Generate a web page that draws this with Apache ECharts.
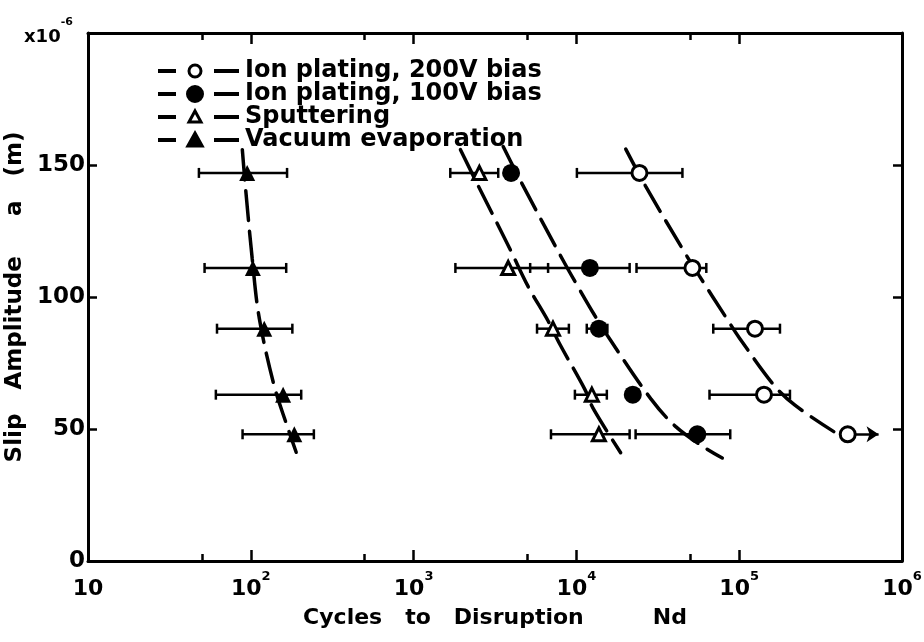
<!DOCTYPE html>
<html>
<head>
<meta charset="utf-8">
<script src="https://cdn.jsdelivr.net/npm/echarts@6/dist/echarts.min.js"></script>
<style>
  html, body { margin: 0; padding: 0; background: #fff; }
  #chart { width: 924px; height: 642px; }
</style>
</head>
<body>
<div id="chart"></div>
<script>
// slip amplitude levels (x10^-6 m), shared by all four coatings
const amplitude = [147, 111, 88, 63, 48];

// cycles to disruption, read at each amplitude level
const ion200N = [24400, 51600, 125000, 142000, 464000];
const ion100N = [3970, 12100, 13740, 22200, 55300];
const sputterN = [2535, 3810, 7180, 12440, 13740];
const vacuumN = [95, 103, 121, 158, 185];

// scatter bands (low / high) per level, null = no bar drawn
const ion200Lo = [10070, 23400, 69300, 65700, null];
const ion200Hi = [44800, 62800, 178000, 205000, null];
const ion100Lo = [null, 5200, 11580, null, 23100];
const ion100Hi = [null, 21230, 15500, null, 88100];
const sputterLo = [1680, 1806, 5730, 9790, 6980];
const sputterHi = [3310, 6700, 8990, 15380, 21230];
const vacuumLo = [48, 52, 62, 61, 89];
const vacuumHi = [167, 165, 180, 204, 244];

// run-out arrow on the last 200V point
const ion200Arrow = [464000, 718000];

// fitted dashed curves [N, amplitude]
const ion200Curve = [[20100, 156], [26600, 142], [46100, 117], [56900, 108], [84500, 91.5], [100000, 84.6], [164000, 66.5], [220000, 59], [381000, 49]];
const ion100Curve = [[3550, 157], [4580, 143.5], [8260, 114], [10200, 104], [12970, 93], [16250, 83.5], [28600, 61.5], [40600, 51], [61100, 43], [78700, 39]];
const sputterCurve = [[1940, 155.8], [2500, 142], [3920, 118], [5050, 104], [6690, 91], [7930, 82], [11270, 65], [12620, 58], [18700, 41]];
const vacuumCurve = [[88.7, 155.8], [92.5, 142.3], [102, 114.6], [112.5, 92.3], [139, 66.5], [167, 51.2], [190, 41.2]];

// axis ticks
const xMajor = [100, 1000, 10000, 100000];
const xMinor = [50, 500, 5000, 50000];
const supDigits = { 2: '2', 3: '3', 4: '4', 5: '5', 6: '6' };

const FONT = 'DejaVu Sans';

function points(xs) {
  return xs.map((x, i) => [x, amplitude[i]]);
}

function bars(lo, hi) {
  const out = [];
  lo.forEach((l, i) => {
    if (l != null && hi[i] != null) out.push([l, hi[i], amplitude[i]]);
  });
  return out;
}

function renderBar(params, api) {
  const y = api.value(2);
  const a = api.coord([api.value(0), y]);
  const b = api.coord([api.value(1), y]);
  const style = { stroke: '#000', lineWidth: 2.5 };
  return {
    type: 'group',
    children: [
      { type: 'line', shape: { x1: a[0], y1: a[1], x2: b[0], y2: b[1] }, style },
      { type: 'line', shape: { x1: a[0], y1: a[1] - 5, x2: a[0], y2: a[1] + 5 }, style },
      { type: 'line', shape: { x1: b[0], y1: b[1] - 5, x2: b[0], y2: b[1] + 5 }, style }
    ]
  };
}

function xLabel(v) {
  const p = Math.round(Math.log10(v));
  if (p === 1) return '{b|10}';
  return '{b|10}{s|' + supDigits[p] + '}';
}

const lineAxis = { show: true, lineStyle: { color: '#000', width: 3 } };
const noAxis = { show: false };

const xBase = { type: 'log', logBase: 10, min: 10, max: 1000000, gridIndex: 0, splitLine: { show: false } };

const curveStyle = { color: '#000', width: 3.5, type: [30, 11], cap: 'round' };

function curve(data) {
  return {
    type: 'line', data, smooth: 0.35, showSymbol: false, silent: true,
    lineStyle: curveStyle, z: 2
  };
}

function barSeries(data) {
  return {
    type: 'custom', renderItem: renderBar, data, encode: { x: [0, 1], y: 2 }, silent: true, z: 3
  };
}

const hollow = { color: '#fff', borderColor: '#000', borderWidth: 3, opacity: 1 };
const solid = { color: '#000', opacity: 1 };

// legend drawn as graphic: dash - marker - dash - text
const legendRows = [
  { text: 'Ion plating, 200V bias', mark: 'circle', fill: '#fff' },
  { text: 'Ion plating, 100V bias', mark: 'circle', fill: '#000' },
  { text: 'Sputtering', mark: 'tri', fill: '#fff' },
  { text: 'Vacuum evaporation', mark: 'tri', fill: '#000' }
];
const legendGraphics = [];
legendRows.forEach((r, i) => {
  const y = 71 + i * 23;
  const ls = { stroke: '#000', lineWidth: 4 };
  legendGraphics.push({ type: 'line', shape: { x1: 158, y1: y, x2: 176, y2: y }, style: ls });
  legendGraphics.push({ type: 'line', shape: { x1: 214, y1: y, x2: 239, y2: y }, style: ls });
  if (r.mark === 'circle') {
    legendGraphics.push({ type: 'circle', shape: { cx: 195, cy: y, r: r.fill === '#fff' ? 6 : 7.5 },
      style: { fill: r.fill, stroke: '#000', lineWidth: 3 } });
  } else {
    const h = r.fill === '#fff' ? 10 : 12;
    legendGraphics.push({ type: 'polygon', shape: { points: [[195, y - h / 2 - 1], [195 + h * 0.6, y + h / 2], [195 - h * 0.6, y + h / 2]] },
      style: { fill: r.fill, stroke: '#000', lineWidth: 3 } });
  }
  legendGraphics.push({ type: 'text', x: 245, y: y, style: {
    text: r.text, font: 'bold 24px "' + FONT + '"', fill: '#000', verticalAlign: 'middle', align: 'left' } });
});

const chart = echarts.init(document.getElementById('chart'));
chart.setOption({
  animation: false,
  backgroundColor: '#fff',
  textStyle: { fontFamily: FONT },
  grid: { left: 88, right: 22, top: 33, bottom: 81, outerBoundsMode: 'none' },
  graphic: [
    { type: 'text', left: 24, top: 17, style: {
      text: '{b|x10}{s|-6}',
      rich: {
        b: { font: 'bold 18px "' + FONT + '"', fill: '#000', padding: [11, 0, 0, 0] },
        s: { font: 'bold 11px "' + FONT + '"', fill: '#000', verticalAlign: 'top' }
      } } }
  ].concat(legendGraphics),
  xAxis: [
    Object.assign({}, xBase, {
      position: 'bottom',
      axisLine: lineAxis,
      axisTick: { show: true, inside: true, length: 11, customValues: xMajor, lineStyle: { color: '#000', width: 2.5 } },
      axisLabel: {
        show: true, margin: 9, color: '#000', formatter: xLabel,
        rich: {
          b: { fontFamily: FONT, fontWeight: 'bold', fontSize: 22, color: '#000', padding: [8, 0, 0, 0] },
          s: { fontFamily: FONT, fontWeight: 'bold', fontSize: 13, color: '#000', verticalAlign: 'top' }
        }
      },
      name: 'Cycles   to   Disruption         Nd',
      nameLocation: 'middle',
      nameGap: 46,
      nameTextStyle: { fontFamily: FONT, fontWeight: 'bold', fontSize: 22, color: '#000' }
    }),
    Object.assign({}, xBase, {
      position: 'bottom', axisLine: noAxis,
      axisTick: { show: true, inside: true, length: 7, customValues: xMinor, lineStyle: { color: '#000', width: 2.5 } },
      axisLabel: { show: false }
    }),
    Object.assign({}, xBase, {
      position: 'top', axisLine: lineAxis,
      axisTick: { show: true, inside: true, length: 11, customValues: xMajor, lineStyle: { color: '#000', width: 2.5 } },
      axisLabel: { show: false }
    }),
    Object.assign({}, xBase, {
      position: 'top', axisLine: noAxis,
      axisTick: { show: true, inside: true, length: 7, customValues: xMinor, lineStyle: { color: '#000', width: 2.5 } },
      axisLabel: { show: false }
    })
  ],
  yAxis: [
    {
      type: 'value', min: 0, max: 200, interval: 50, position: 'left',
      axisLine: lineAxis,
      axisTick: { show: true, inside: true, length: 9, lineStyle: { color: '#000', width: 2.5 } },
      splitLine: { show: false },
      axisLabel: {
        margin: 3, color: '#000', fontFamily: FONT, fontWeight: 'bold', fontSize: 23,
        formatter: v => (v === 200 ? '' : String(v))
      },
      name: 'Slip   Amplitude     a   (m)',
      nameLocation: 'middle',
      nameGap: 50,
      nameTextStyle: { fontFamily: FONT, fontWeight: 'bold', fontSize: 23, color: '#000' }
    },
    {
      type: 'value', min: 0, max: 200, interval: 50, position: 'right',
      axisLine: lineAxis,
      axisTick: { show: true, inside: true, length: 9, lineStyle: { color: '#000', width: 2.5 } },
      splitLine: { show: false },
      axisLabel: { show: false }
    }
  ],
  series: [
    curve(ion200Curve),
    curve(ion100Curve),
    curve(sputterCurve),
    curve(vacuumCurve),
    barSeries(bars(ion200Lo, ion200Hi)),
    barSeries(bars(ion100Lo, ion100Hi)),
    barSeries(bars(sputterLo, sputterHi)),
    barSeries(bars(vacuumLo, vacuumHi)),
    {
      name: 'Ion plating, 200V bias', type: 'scatter', data: points(ion200N),
      symbol: 'circle', symbolSize: 15, itemStyle: hollow, z: 5,
      markLine: {
        silent: true, symbol: ['none', 'arrow'], symbolSize: 12,
        label: { show: false },
        lineStyle: { color: '#000', width: 2.5, type: 'solid', opacity: 1 },
        itemStyle: { color: '#000' },
        data: [[{ coord: [ion200Arrow[0], amplitude[4]] }, { coord: [ion200Arrow[1], amplitude[4]] }]]
      }
    },
    {
      name: 'Ion plating, 100V bias', type: 'scatter', data: points(ion100N),
      symbol: 'circle', symbolSize: 18, itemStyle: solid, z: 5
    },
    {
      name: 'Sputtering', type: 'scatter', data: points(sputterN),
      symbol: 'triangle', symbolSize: 13, itemStyle: hollow, z: 5
    },
    {
      name: 'Vacuum evaporation', type: 'scatter', data: points(vacuumN),
      symbol: 'triangle', symbolSize: 16, itemStyle: solid, z: 5
    }
  ]
});
</script>
</body>
</html>
